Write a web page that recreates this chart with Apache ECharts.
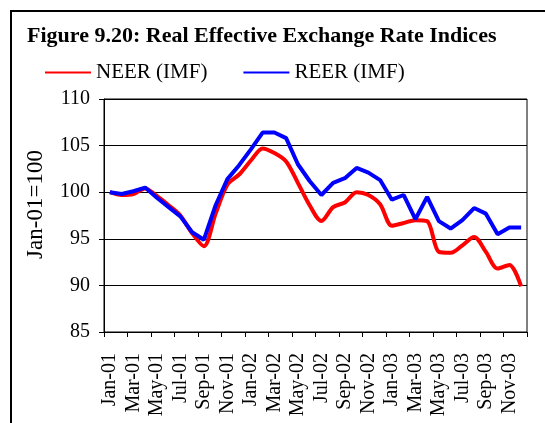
<!DOCTYPE html>
<html>
<head>
<meta charset="utf-8">
<script src="https://cdn.jsdelivr.net/npm/echarts@6/dist/echarts.min.js"></script>
<style>
html,body{margin:0;padding:0;background:#fff;}
#c{width:545px;height:423px;}
</style>
</head>
<body>
<div id="c"></div>
<script>
var months = ['Jan-01','Feb-01','Mar-01','Apr-01','May-01','Jun-01','Jul-01','Aug-01','Sep-01','Oct-01','Nov-01','Dec-01',
              'Jan-02','Feb-02','Mar-02','Apr-02','May-02','Jun-02','Jul-02','Aug-02','Sep-02','Oct-02','Nov-02','Dec-02',
              'Jan-03','Feb-03','Mar-03','Apr-03','May-03','Jun-03','Jul-03','Aug-03','Sep-03','Oct-03','Nov-03','Dec-03'];
var neer = [100.0, 99.7, 99.8, 100.4, 99.6, 98.6, 97.5, 95.6, 94.2, 97.7, 100.8, 101.9,
            103.4, 104.7, 104.2, 103.3, 101.0, 98.6, 96.9, 98.4, 98.9, 100.0, 99.7, 98.7,
            96.4, 96.7, 97.0, 96.9, 93.6, 93.5, 94.3, 95.2, 93.6, 91.8, 92.2, 89.9];
var reer = [100.0, 99.8, 100.1, 100.5, 99.4, 98.4, 97.4, 95.7, 94.9, 98.6, 101.4, 102.9,
            104.6, 106.4, 106.4, 105.8, 103.0, 101.2, 99.7, 101.0, 101.5, 102.6, 102.1, 101.3,
            99.2, 99.7, 97.1, 99.5, 96.9, 96.1, 97.0, 98.3, 97.7, 95.5, 96.2, 96.2];
var yTicks = [85, 90, 95, 100, 105, 110];

var font = "'Liberation Serif','Times New Roman',serif";
var chart = echarts.init(document.getElementById('c'), null, {renderer: 'canvas'});
chart.setOption({
  animation: false,
  backgroundColor: '#fff',
  title: {
    text: 'Figure 9.20: Real Effective Exchange Rate Indices',
    left: 22, top: 20,
    textStyle: {fontFamily: font, fontWeight: 'bold', fontSize: 22, color: '#000'}
  },
  legend: {
    left: 40, top: 57,
    itemWidth: 46, itemHeight: 10, itemGap: 36,
    textStyle: {fontFamily: font, fontSize: 21, color: '#000'},
    data: [{name: 'NEER (IMF)', icon: 'path://M0,4L46,4L46,6L0,6Z'}, {name: 'REER (IMF)', icon: 'path://M0,4L46,4L46,6L0,6Z'}]
  },
  graphic: [{
    type: 'rect', shape: {x: 11, y: 11, width: 560, height: 440},
    style: {fill: 'none', stroke: '#000', lineWidth: 2}, silent: true
  }],
  grid: {left: 104, right: 18, top: 99, bottom: 91, show: true, borderColor: '#000', borderWidth: 1},
  xAxis: {
    type: 'category', data: months, boundaryGap: true,
    axisLine: {lineStyle: {color: '#000', width: 1}},
    axisTick: {show: true, interval: 1, length: 5, lineStyle: {color: '#000'}},
    axisLabel: {interval: 1, rotate: 90, margin: 21, fontFamily: font, fontSize: 20, color: '#000'},
    splitLine: {show: false}
  },
  yAxis: {
    type: 'value', min: yTicks[0], max: yTicks[yTicks.length - 1], interval: 5,
    name: 'Jan-01=100', nameLocation: 'middle', nameGap: 57,
    nameTextStyle: {fontFamily: font, fontSize: 23, color: '#000', padding: [0, 0, 0, 22]},
    axisLine: {show: true, lineStyle: {color: '#000', width: 1}},
    axisTick: {show: true, length: 5, lineStyle: {color: '#000'}},
    axisLabel: {margin: 14, fontFamily: font, fontSize: 20, color: '#000'},
    splitLine: {show: true, lineStyle: {color: '#000', width: 1}}
  },
  series: [
    {name: 'NEER (IMF)', type: 'line', data: neer, smooth: 0.3, showSymbol: false, symbol: 'none',
     lineStyle: {color: '#ff0000', width: 4}, itemStyle: {color: '#ff0000'}, z: 2},
    {name: 'REER (IMF)', type: 'line', data: reer, smooth: false, showSymbol: false, symbol: 'none',
     lineStyle: {color: '#0000ff', width: 4}, itemStyle: {color: '#0000ff'}, z: 3}
  ]
});
</script>
</body>
</html>
